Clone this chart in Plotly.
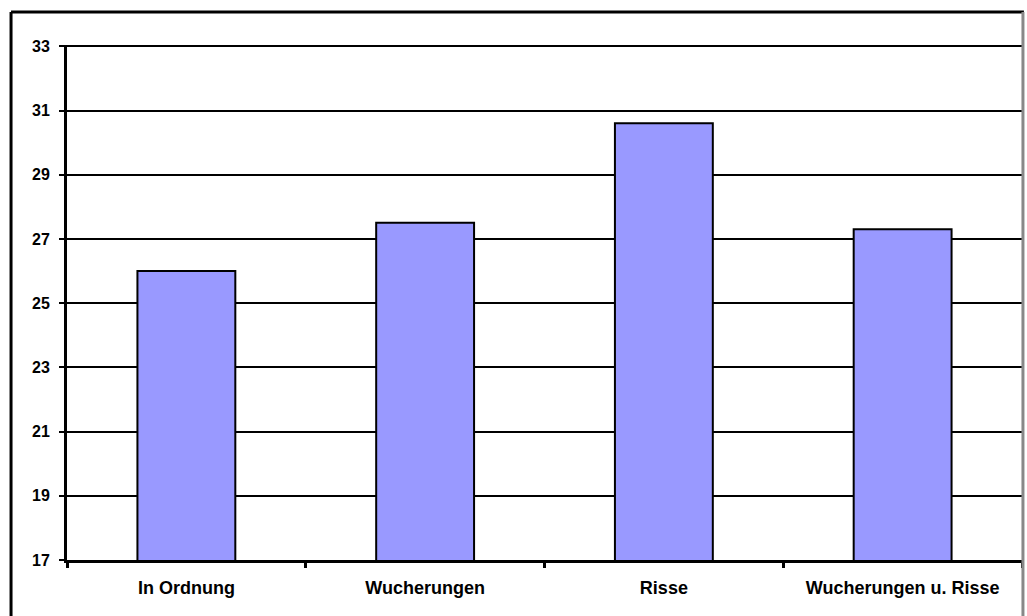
import plotly.graph_objects as go

categories = ["In Ordnung", "Wucherungen", "Risse", "Wucherungen u. Risse"]
values = [26.0, 27.5, 30.6, 27.3]
y_ticks = [17, 19, 21, 23, 25, 27, 29, 31, 33]

fig = go.Figure()
fig.add_trace(go.Bar(
    x=categories, y=values,
    marker=dict(color="#9999FF", line=dict(color="black", width=2)),
    width=0.41,
))

fam = "Liberation Sans, Arial, sans-serif"

fig.update_layout(
    width=1027, height=616,
    margin=dict(l=67, r=5, t=45, b=56),
    paper_bgcolor="white", plot_bgcolor="white",
    showlegend=False,
    font=dict(family=fam, size=14, color="black"),
    xaxis=dict(
        showline=True, linecolor="black", linewidth=3,
        ticks="outside", tickson="boundaries", ticklen=5, tickwidth=3, tickcolor="black",
        tickfont=dict(family=fam, size=18, color="black", weight="bold"),
        ticklabelstandoff=9,
        showgrid=False, zeroline=False,
    ),
    yaxis=dict(
        range=[17, 33.04], tickvals=y_ticks, ticktext=[str(v) for v in y_ticks],
        showline=True, linecolor="black", linewidth=3,
        ticks="outside", ticklen=5, tickwidth=2, tickcolor="black",
        showgrid=True, gridcolor="black", gridwidth=2,
        tickfont=dict(family=fam, size=16, color="black", weight="bold"),
        ticklabelstandoff=6,
        zeroline=False,
    ),
    shapes=[
        dict(type="line", xref="paper", yref="paper", x0=-0.0586, x1=-0.0586, y0=1.064, y1=-0.3,
             line=dict(color="black", width=3)),
        dict(type="line", xref="paper", yref="paper", x0=-0.0586, x1=1.002, y0=1.064, y1=1.064,
             line=dict(color="black", width=3)),
        dict(type="line", xref="paper", yref="paper", x0=1.001, x1=1.001, y0=1.064, y1=-0.3,
             line=dict(color="#888888", width=3)),
    ],
)

fig.write_html("out.html", config={"displayModeBar": False},
               post_script="document.body.style.margin='0';document.body.style.padding='0';")
